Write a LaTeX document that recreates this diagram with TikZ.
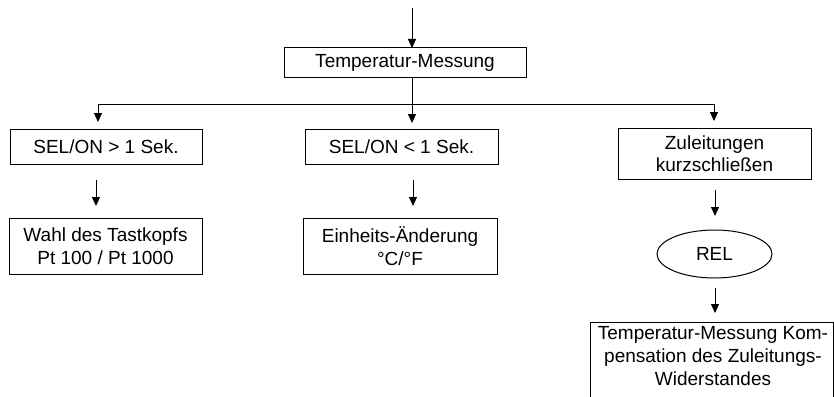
\documentclass[tikz,border=0pt]{standalone}
\usepackage{fontspec}
\setmainfont{Liberation Sans}
\usetikzlibrary{shapes.geometric,arrows.meta}
\begin{document}
\begin{tikzpicture}[x=1pt,y=-1pt,
  line width=1pt,
  font=\fontsize{19}{23}\selectfont,
  box/.style={draw,rectangle,inner sep=0pt,align=center},
  oval/.style={draw,ellipse,inner sep=0pt,minimum width=115pt,minimum height=48pt},
  arr/.style={-{Triangle[width=8pt,length=9pt]}}]
\useasboundingbox (0,0) rectangle (834,396);
\clip (0,0) rectangle (834,396);
% nodes
\node[box,minimum width=242pt,minimum height=29pt] (tm) at (405,62.5) {Temperatur-Messung};
\node[box,minimum width=192pt,minimum height=35pt] (b1) at (106,146.5) {SEL/ON > 1 Sek.};
\node[box,minimum width=193pt,minimum height=35pt] (b2) at (401.5,146.5) {SEL/ON < 1 Sek.};
\node[box,minimum width=193pt,minimum height=51pt,font=\fontsize{19}{22}\selectfont] (b3) at (714.5,153.5) {Zuleitungen\\kurzschließen};
\node[box,minimum width=193pt,minimum height=56pt] (b4) at (105.5,246) {Wahl des Tastkopfs\\Pt 100 / Pt 1000};
\node[box,minimum width=194pt,minimum height=56pt] (b5) at (400,246) {Einheits-Änderung\\°C/°F};
\node[oval] (rel) at (714.5,254) {REL};
\draw (590,410) -- (590,322) -- (833,322) -- (833,410);
\node[align=center,inner sep=0pt,anchor=north] (b6) at (713,326) {Temperatur-Messung Kom-\\pensation des Zuleitungs-\\Widerstandes};
% connectors
\coordinate (top) at (412,8);
\coordinate (tmin) at (412,48);
\draw[arr] (top) -- (tmin);
\coordinate (tmout) at (412,77);
\coordinate (b2in) at (412,123);
\draw[arr] (tmout) -- (b2in);
\coordinate (hl) at (98,104);
\coordinate (hr) at (714,104);
\coordinate (b1in) at (98,122);
\coordinate (b3in) at (714,121);
\draw (hl) -- (hr);
\draw[arr] (hl) -- (b1in);
\draw[arr] (hr) -- (b3in);
\coordinate (a1s) at (96,180);
\coordinate (a1e) at (96,206);
\draw[arr] (a1s) -- (a1e);
\coordinate (a2s) at (413,180);
\coordinate (a2e) at (413,206);
\draw[arr] (a2s) -- (a2e);
\coordinate (a3s) at (715,190);
\coordinate (a3e) at (715,216);
\draw[arr] (a3s) -- (a3e);
\coordinate (a4s) at (715,288);
\coordinate (a4e) at (715,313);
\draw[arr] (a4s) -- (a4e);
\end{tikzpicture}
\end{document}
